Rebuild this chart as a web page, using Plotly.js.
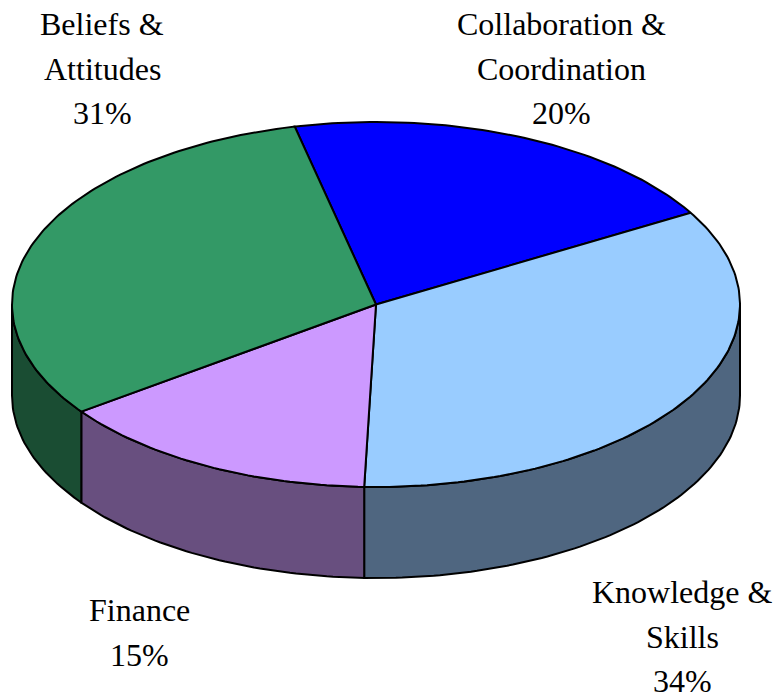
<!DOCTYPE html>
<html><head><meta charset="utf-8">
<script src="https://cdn.plot.ly/plotly-3.0.1.min.js"></script>
<style>html,body{margin:0;padding:0;background:#fff}#c{width:781px;height:696px}</style>
</head><body><div id="c"></div>
<script>
const categories = ["Collaboration & Coordination", "Knowledge & Skills", "Finance", "Beliefs & Attitudes"];
const values = [20.2, 33.9, 14.5, 31.4];
const topColors = ["#0000ff", "#99ccff", "#cc99ff", "#339966"];
const sideColors = ["#00007f", "#4f6680", "#684f7f", "#1a4d33"];
const labelLines = [["Collaboration &", "Coordination"], ["Knowledge &", "Skills"], ["Finance"], ["Beliefs &", "Attitudes"]];
const labelX = [561, 682, 139, 102];
const labelY = [24, 592, 610, 24];
const lineGap = 44.5;
const startAngle = 102.9, cx = 376, cy = 304.5, rx = 364, ry = 182.5, depth = 91;

const rad = d => d * Math.PI / 180;
const px = a => cx + rx * Math.cos(rad(a));
const py = a => cy - ry * Math.sin(rad(a));
function arc(a0, a1) {
  const n = Math.max(2, Math.ceil(Math.abs(a0 - a1)));
  const out = [];
  for (let i = 0; i <= n; i++) out.push(a0 + (a1 - a0) * i / n);
  return out;
}
const total = values.reduce((s, v) => s + v, 0);
const sides = [], tops = [];
let a = startAngle;
values.forEach((v, i) => {
  const a1 = a - v / total * 360;
  const as = arc(a, a1);
  tops.push({type: "scatter", mode: "lines", x: [cx, ...as.map(px), cx], y: [cy, ...as.map(py), cy],
    fill: "toself", fillcolor: topColors[i], line: {color: "#000", width: 2}, hoverinfo: "text", text: categories[i], name: categories[i]});
  const hi = Math.min(a, 0), lo = Math.max(a1, -180);
  if (hi > lo) {
    const w = arc(hi, lo);
    sides.push({type: "scatter", mode: "lines",
      x: [...w.map(px), ...w.slice().reverse().map(px), px(hi)],
      y: [...w.map(py), ...w.slice().reverse().map(t => py(t) + depth), py(hi)],
      fill: "toself", fillcolor: sideColors[i], line: {color: "#000", width: 2}, hoverinfo: "skip", name: categories[i]});
  }
  a = a1;
});
const annotations = [];
labelLines.forEach((lines, i) => {
  const base = {xref: "x", yref: "y", showarrow: false, xanchor: "center", yanchor: "middle",
    font: {family: "Liberation Serif, Times New Roman, serif", size: 32, color: "#000"}};
  lines.forEach((t, j) => annotations.push({...base, x: labelX[i], y: labelY[i] + j * lineGap, text: t}));
  annotations.push({...base, x: labelX[i], y: labelY[i] + lines.length * lineGap, text: Math.round(values[i]) + "%", height: 28});
});
Plotly.newPlot("c", [...sides, ...tops], {
  width: 781, height: 696, margin: {l: 0, r: 0, t: 0, b: 0}, showlegend: false,
  paper_bgcolor: "#fff", plot_bgcolor: "#fff",
  xaxis: {range: [0, 781], visible: false, fixedrange: true},
  yaxis: {range: [696, 0], visible: false, fixedrange: true},
  annotations
}, {displayModeBar: false, staticPlot: true});
</script></body></html>
